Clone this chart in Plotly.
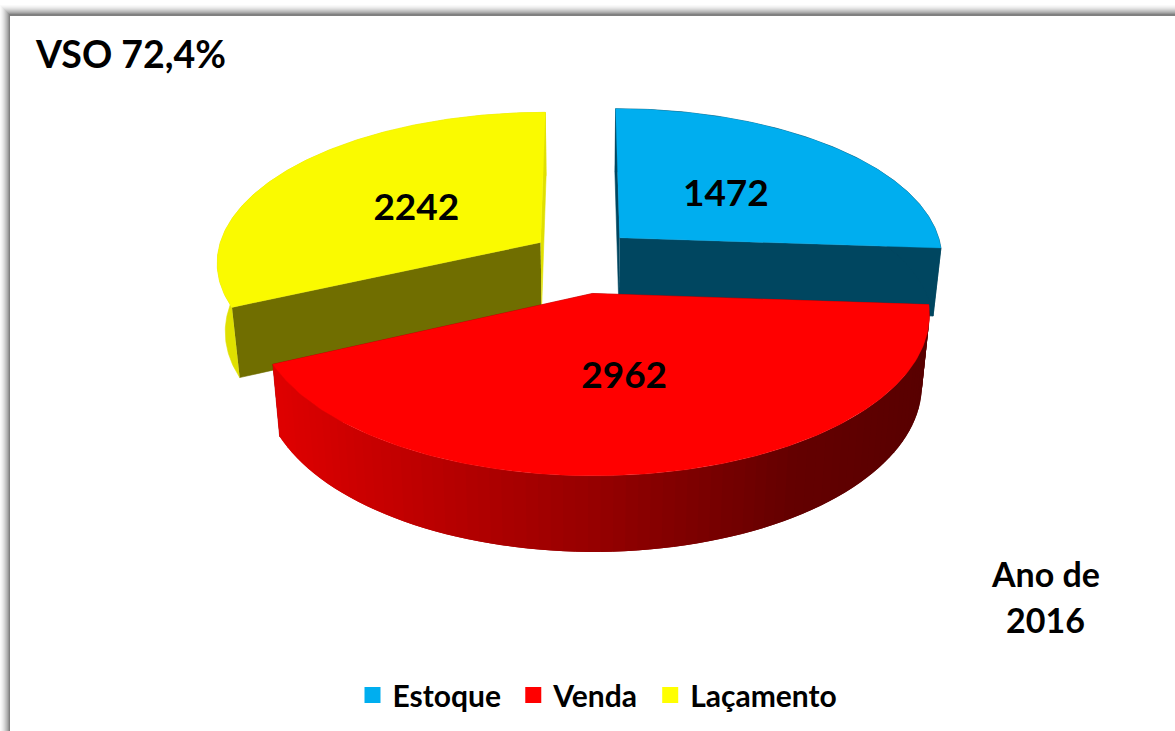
import numpy as np
import plotly.graph_objects as go

categories = ["Estoque", "Venda", "Laçamento"]
values = [1472, 2962, 2242]
top_colors = ["#00AEEF", "#FF0000", "#FAFA00"]
legend_colors = ["#00AEEF", "#FF0000", "#FFFF00"]
face_colors = ["#004660", "#A00000", "#706E00"]
wall_colors = ["#004660", None, "#E0E000"]
title_text = "VSO 72,4%"
note_lines = ["Ano de", "2016"]

W, H = 1175, 731
CX, CY, RX, A, P = 583.0, 260.0, 325.0, 150.5, 0.125
EX, EY = 0.157, 0.22
SHRINK, DEPTH = 0.978, 68.5


def warp(t):
    # viewing distortion of the tilted pie
    r = np.radians(t)
    return t + 9.1 * np.sin(r) + 15.64 * np.sin(2 * r)


def project(X, Y, bottom=False):
    w = 1 + P * Y
    sx = CX + RX * X / w
    sy = CY - A * Y / w
    if bottom:
        sx = CX + SHRINK * (sx - CX)
        sy = CY + SHRINK * (sy - CY) + DEPTH / w
    return sx, sy


def poly(x, y, color, lw=0.6):
    return go.Scatter(x=list(x), y=list(y), mode="lines", fill="toself", fillcolor=color,
                      line=dict(color=color, width=lw), hoverinfo="skip", showlegend=False)


def red_shade(x):
    stops_x = [280, 420, 600, 800, 930]
    stops_r = [222, 190, 150, 100, 88]
    return "rgb(%d,0,0)" % round(np.interp(x, stops_x, stops_r))


total = sum(values)
cum = np.cumsum([0] + values) / total * 360.0
fig = go.Figure()
slices = []
for i, name in enumerate(categories):
    a0, a1 = warp(cum[i]), warp(cum[i + 1])
    mid = np.radians((a0 + a1) / 2)
    ax, ay = EX * np.sin(mid), EY * np.cos(mid)
    th = np.radians(np.linspace(a0, a1, 161))
    slices.append(dict(i=i, ax=ax, ay=ay, th=th, mid=mid))

for s in [slices[2], slices[0], slices[1]]:
    i, ax, ay, th = s["i"], s["ax"], s["ay"], s["th"]
    X, Y = ax + np.sin(th), ay + np.cos(th)
    tx, ty = project(X, Y)
    bx, by = project(X, Y, True)
    apx, apy = project(ax, ay)
    abx, aby = project(ax, ay, True)
    # radial faces
    for k in (0, -1):
        col = face_colors[i]
        if i == 2 and k == -1:
            col = "#E0E000"
        fig.add_trace(poly([apx, tx[k], bx[k], abx], [apy, ty[k], by[k], aby], col))
    # outer wall
    if i == 1:
        for j in range(0, len(th) - 1, 2):
            e = min(j + 5, len(th))
            fig.add_trace(go.Scatter(
                x=list(tx[j:e]) + list(bx[j:e][::-1]), y=list(ty[j:e]) + list(by[j:e][::-1]),
                mode="lines", fill="toself", fillcolor=red_shade(tx[j]), line=dict(width=0),
                hoverinfo="skip", showlegend=False))
    else:
        fig.add_trace(poly(list(tx) + list(bx[::-1]), list(ty) + list(by[::-1]), wall_colors[i]))
    # top surface
    fig.add_trace(poly([apx] + list(tx) + [apx], [apy] + list(ty) + [apy], top_colors[i], 0.3))

for s in slices:
    i = s["i"]
    r = 0.48
    lx, ly = project(s["ax"] + r * np.sin(s["mid"]), s["ay"] + r * np.cos(s["mid"]))
    fig.add_trace(go.Scatter(x=[lx], y=[ly + 5], mode="text", text=[str(values[i])],
                             textfont=dict(family="Lato", size=37, color="black", weight="bold"),
                             textposition="middle center", hoverinfo="skip", showlegend=False))

# a non-breaking space widens the legend entries to the reference's spacing
legend_pad = ["\u00a0", "\u00a0", ""]
for name, col, pad in zip(categories, legend_colors, legend_pad):
    fig.add_trace(go.Scatter(x=[None], y=[None], mode="markers", name=name + pad,
                             marker=dict(symbol="square", size=18, color=col)))

shapes = []
grays = [250, 244, 236, 226, 214, 200, 186, 170, 150, 128]
for k, g in enumerate(grays):
    c = "rgb(%d,%d,%d)" % (g, g, g)
    shapes.append(dict(type="rect", x0=k * 1.0, x1=W, y0=5 + k, y1=H, fillcolor=c, line_width=0, layer="below"))
shapes.append(dict(type="rect", x0=10, x1=W, y0=16, y1=H, fillcolor="white", line_width=0, layer="below"))

annotations = [dict(x=33, y=53, text="<b>%s</b>" % title_text, showarrow=False, xanchor="left", yanchor="middle",
                    font=dict(family="Lato", size=37.5, color="black"))]
for yy, t in zip([573, 619], note_lines):
    annotations.append(dict(x=1045, y=yy, text="<b>%s</b>" % t, showarrow=False, xanchor="center", yanchor="middle",
                            font=dict(family="Lato", size=34, color="black")))

fig.update_layout(
    width=W, height=H, margin=dict(l=0, r=0, t=0, b=0), autosize=False,
    paper_bgcolor="white", plot_bgcolor="white",
    xaxis=dict(range=[0, W], visible=False, fixedrange=True),
    yaxis=dict(range=[H, 0], visible=False, fixedrange=True),
    shapes=shapes, annotations=annotations,
    legend=dict(orientation="h", x=0.5 + 10 / W, xanchor="center", y=(H - 695) / H, yanchor="middle",
                font=dict(family="Lato", size=30, color="black", weight="bold"),
                bgcolor="rgba(0,0,0,0)", itemwidth=30),
)
fig.write_html("out.html", config=dict(displayModeBar=False),
               post_script="document.body.style.margin='0';document.body.style.overflow='hidden';")
